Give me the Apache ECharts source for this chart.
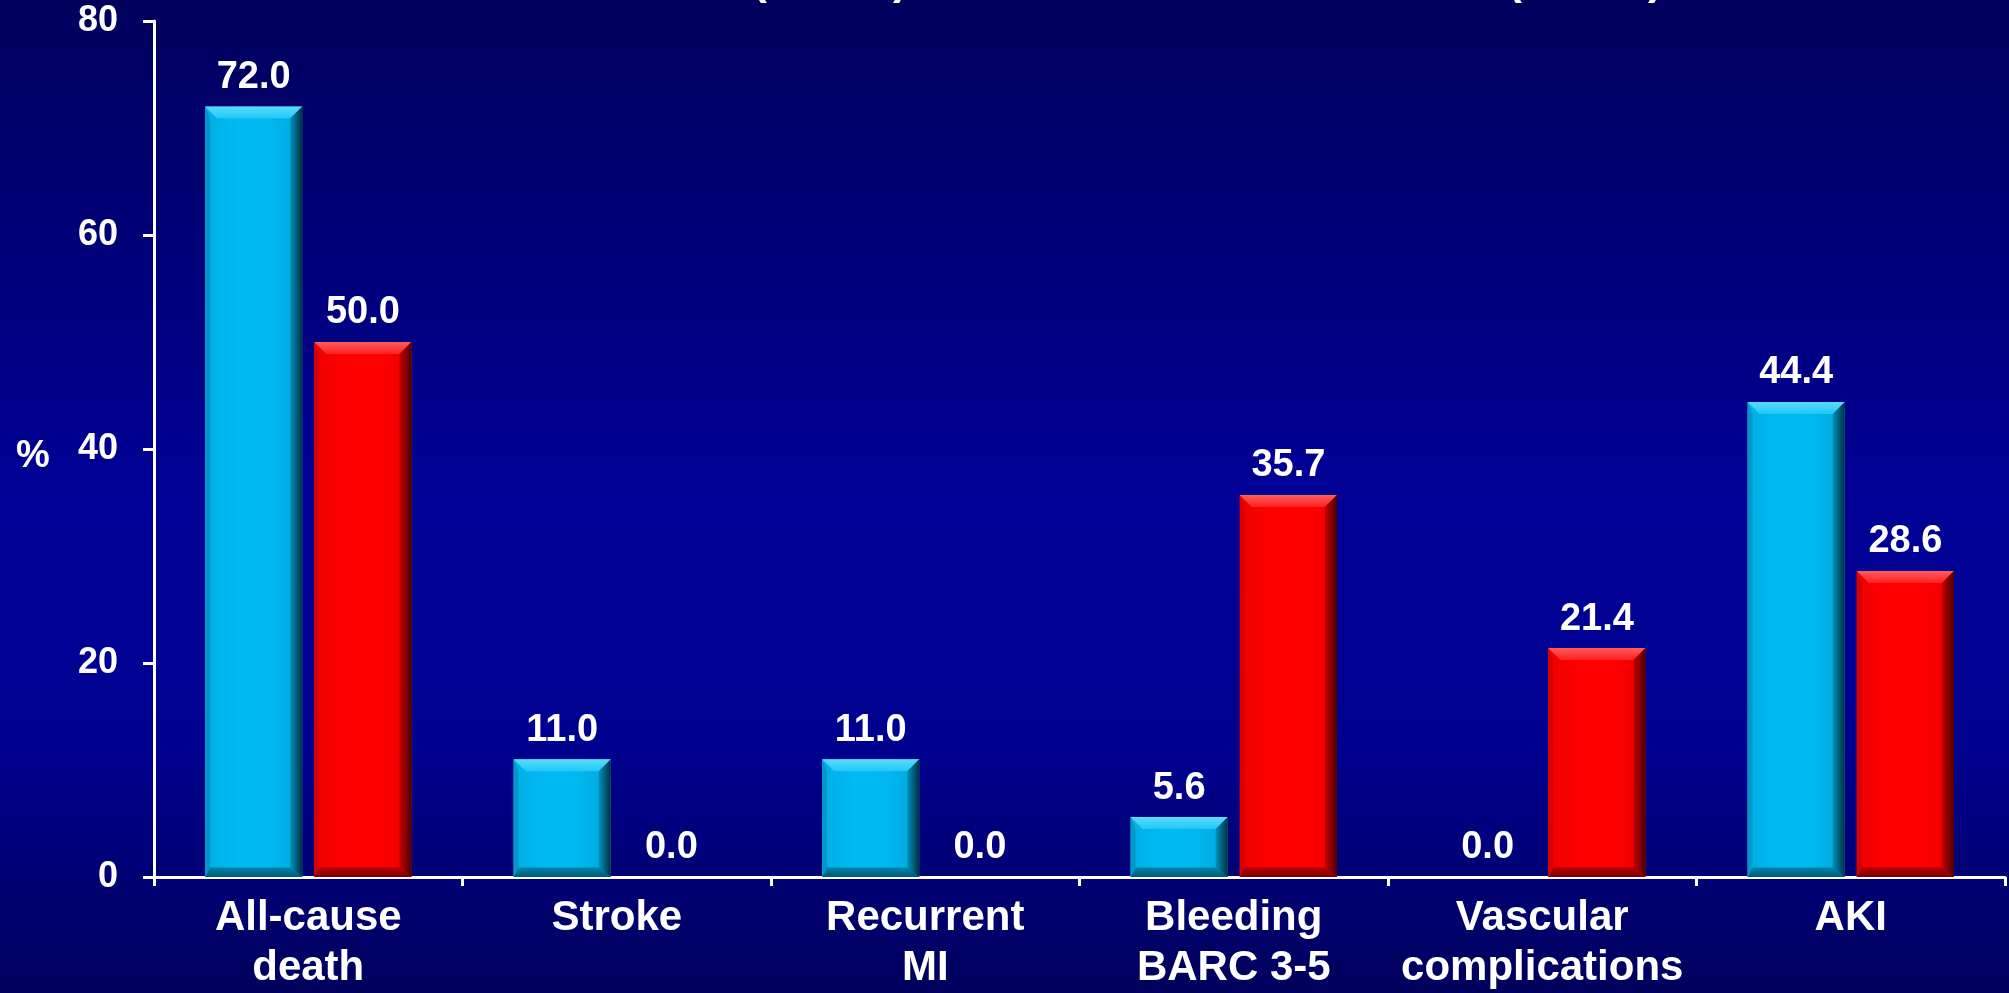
<!DOCTYPE html>
<html>
<head>
<meta charset="utf-8">
<title>Outcomes by group</title>
<script src="https://cdn.jsdelivr.net/npm/echarts@6/dist/echarts.min.js"></script>
<style>
  html, body { margin: 0; padding: 0; background: #000070; }
  #chart { width: 2009px; height: 993px; }
</style>
</head>
<body>
<div id="chart"></div>
<script>
// Outcome categories (two-line labels)
const categories = [
  'All-cause\ndeath',
  'Stroke',
  'Recurrent\nMI',
  'Bleeding\nBARC 3-5',
  'Vascular\ncomplications',
  'AKI'
];

// Event rates (%) for the two groups
const groupA = [72.0, 11.0, 11.0, 5.6, 0.0, 44.4];   // cyan bars, n = 18
const groupB = [50.0, 0.0, 0.0, 35.7, 21.4, 28.6];   // red bars, n = 14

// Group size captions at the top edge
const groupCaptions = ['(n = 18)', '(n = 14)'];

// Y axis ticks and unit
const yTicks = [0, 20, 40, 60, 80];
const yUnit = '%';

const FONT = '"Liberation Sans", Arial, sans-serif';

// Palettes for the bevelled bar look
const palettes = {
  cyan: {
    face: ['#00AEE4', '#00BAF3', '#00B8F0', '#00A6DA'],
    top: ['#5ADCFF', '#22C6F6'],
    right: ['#0090BC', '#00313F'],
    left: '#0098C8',
    bottom: ['#0086AE', '#005A75']
  },
  red: {
    face: ['#EE0000', '#FF0000', '#FF0000', '#E80000'],
    top: ['#FF5C5C', '#FF2020'],
    right: ['#C80000', '#4A0000'],
    left: '#D80000',
    bottom: ['#B80000', '#7A0000']
  }
};

function lin(x, y, x2, y2, stops) {
  const n = stops.length;
  return {
    type: 'linear', x: x, y: y, x2: x2, y2: y2,
    colorStops: stops.map((c, i) => ({ offset: n === 1 ? 0 : i / (n - 1), color: c }))
  };
}

// Bars are drawn through the category/value scales; side = -1 (left) or +1 (right)
function bevelBars(values, pal, side, name) {
  return {
    type: 'custom',
    name: name,
    data: values.map((v, i) => [i, v]),
    encode: { x: 0, y: 1 },
    z: 3,
    renderItem: function (params, api) {
      const idx = api.value(0);
      const val = api.value(1);
      const top = api.coord([idx, val]);
      const base = api.coord([idx, 0]);
      const catW = api.size([1, 0])[0];
      const bw = catW * 0.315;
      const gap = catW * 0.039;
      const x0 = side < 0 ? top[0] - gap / 2 - bw : top[0] + gap / 2;
      const x1 = x0 + bw;
      const y0 = top[1];
      const y1 = base[1];
      const h = y1 - y0;
      const children = [];
      if (h >= 1) {
        const b = Math.min(12, h / 2);
        const bl = Math.min(5, h / 2);
        children.push({
          type: 'rect',
          shape: { x: x0, y: y0, width: bw, height: h },
          style: { fill: lin(0, 0, 1, 0, pal.face) }
        });
        children.push({
          type: 'polygon',
          shape: { points: [[x0, y0], [x1, y0], [x1 - b, y0 + b], [x0 + b, y0 + b]] },
          style: { fill: lin(0, 0, 0, 1, pal.top) }
        });
        children.push({
          type: 'polygon',
          shape: { points: [[x0, y1], [x1, y1], [x1 - b, y1 - b * 0.8], [x0 + bl, y1 - b * 0.8]] },
          style: { fill: lin(0, 1, 0, 0, [pal.bottom[1], pal.bottom[0]]) }
        });
        children.push({
          type: 'polygon',
          shape: { points: [[x0, y0], [x0 + bl, y0 + b], [x0 + bl, y1 - b * 0.8], [x0, y1]] },
          style: { fill: pal.left }
        });
        children.push({
          type: 'polygon',
          shape: { points: [[x1, y0], [x1 - b, y0 + b], [x1 - b, y1 - b * 0.8], [x1, y1]] },
          style: { fill: lin(0, 0, 1, 0, pal.right) }
        });
      }
      children.push({
        type: 'text',
        x: (x0 + x1) / 2,
        y: y0 - 10,
        style: {
          text: val.toFixed(1),
          fill: '#FFFFFF',
          font: 'bold 38px ' + FONT,
          align: 'center',
          verticalAlign: 'bottom'
        }
      });
      return { type: 'group', children: children };
    }
  };
}

const chart = echarts.init(document.getElementById('chart'), null, { renderer: 'canvas' });

chart.setOption({
  animation: false,
  backgroundColor: lin(0, 0, 0, 1, ['#00005C', '#000078', '#000096', '#000090', '#00005C']),
  graphic: [
    {
      type: 'text', x: 830, y: -18,
      style: { text: groupCaptions[0], fill: '#FFFFFF', font: 'bold 44px ' + FONT, align: 'center', verticalAlign: 'middle' }
    },
    {
      type: 'text', x: 1585, y: -18,
      style: { text: groupCaptions[1], fill: '#FFFFFF', font: 'bold 44px ' + FONT, align: 'center', verticalAlign: 'middle' }
    },
    {
      // unit of the value axis, set beside its middle
      type: 'text', x: 33, y: 457,
      style: { text: yUnit, fill: '#FFFFFF', font: 'bold 38px ' + FONT, align: 'center', verticalAlign: 'middle' }
    }
  ],
  grid: { left: 154, right: 4, top: 21, bottom: 116, containLabel: false },
  xAxis: {
    type: 'category',
    data: categories,
    axisLine: { lineStyle: { color: '#FFFFFF', width: 3 } },
    axisTick: { show: true, length: 9, lineStyle: { color: '#FFFFFF', width: 3 } },
    axisLabel: {
      color: '#FFFFFF',
      fontFamily: FONT,
      fontWeight: 'bold',
      fontSize: 42,
      lineHeight: 50,
      margin: 16,
      interval: 0
    },
    splitLine: { show: false }
  },
  yAxis: {
    type: 'value',
    min: yTicks[0],
    max: yTicks[yTicks.length - 1],
    interval: yTicks[1] - yTicks[0],
    axisLine: { show: true, lineStyle: { color: '#FFFFFF', width: 3 } },
    axisTick: { show: true, length: 11, lineStyle: { color: '#FFFFFF', width: 3 } },
    axisLabel: {
      color: '#FFFFFF',
      fontFamily: FONT,
      fontWeight: 'bold',
      fontSize: 36,
      margin: 36
    },
    splitLine: { show: false }
  },
  series: [
    bevelBars(groupA, palettes.cyan, -1, 'Group A'),
    bevelBars(groupB, palettes.red, 1, 'Group B')
  ]
});
</script>
</body>
</html>
